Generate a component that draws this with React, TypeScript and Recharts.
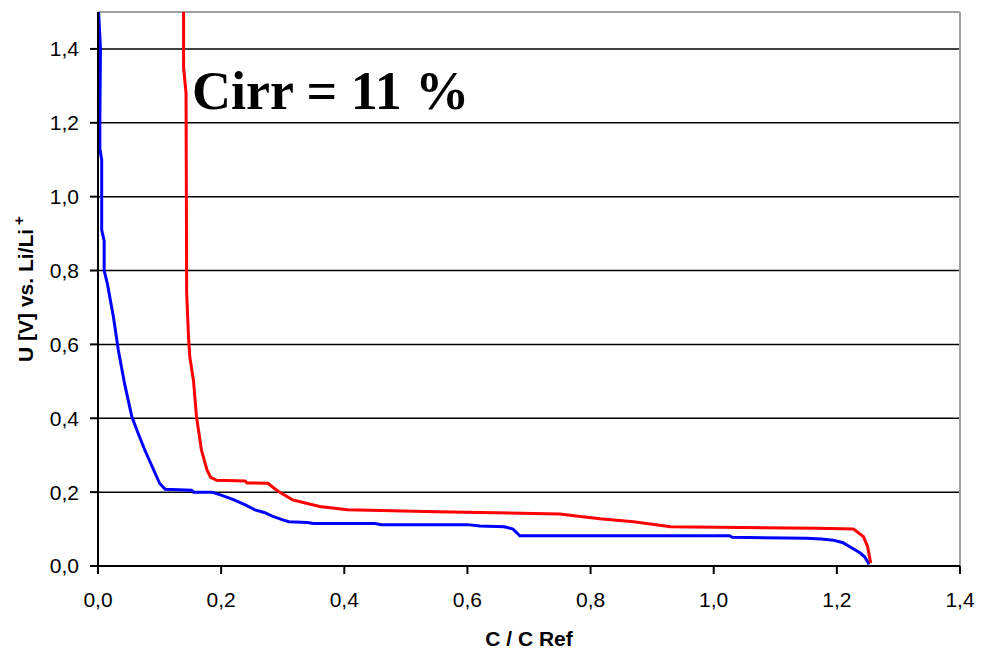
import { CartesianGrid, Line, LineChart, ReferenceLine, XAxis, YAxis } from "recharts";

// C / C Ref values and voltages
const blueX = [0.001, 0.004, 0.003, 0.003, 0.006, 0.006, 0.01, 0.01, 0.015, 0.025, 0.033, 0.043, 0.055, 0.065, 0.076, 0.1, 0.109, 0.152, 0.155, 0.185, 0.2, 0.22, 0.24, 0.255, 0.27, 0.283, 0.3, 0.31, 0.34, 0.35, 0.45, 0.46, 0.6, 0.62, 0.66, 0.674, 0.68, 0.685, 0.8, 1.026, 1.03, 1.151, 1.175, 1.194, 1.21, 1.221, 1.238, 1.245, 1.25, 1.252];
const blueU = [1.5, 1.4, 1.2, 1.13, 1.1, 0.91, 0.88, 0.8, 0.766, 0.675, 0.585, 0.495, 0.404, 0.36, 0.314, 0.224, 0.208, 0.205, 0.2, 0.2, 0.192, 0.18, 0.165, 0.152, 0.145, 0.135, 0.125, 0.12, 0.118, 0.115, 0.115, 0.112, 0.112, 0.108, 0.106, 0.1, 0.09, 0.082, 0.082, 0.082, 0.078, 0.075, 0.073, 0.07, 0.063, 0.052, 0.035, 0.025, 0.012, 0.004];

const redX = [0.139, 0.139, 0.143, 0.144, 0.147, 0.149, 0.155, 0.16, 0.168, 0.177, 0.183, 0.193, 0.239, 0.242, 0.276, 0.29, 0.3, 0.316, 0.36, 0.405, 0.55, 0.75, 0.78, 0.815, 0.87, 0.93, 1.168, 1.227, 1.243, 1.25, 1.255];
const redU = [1.5, 1.35, 1.28, 0.739, 0.621, 0.567, 0.503, 0.404, 0.314, 0.26, 0.24, 0.232, 0.23, 0.225, 0.224, 0.205, 0.195, 0.179, 0.161, 0.152, 0.147, 0.141, 0.135, 0.128, 0.12, 0.106, 0.102, 0.1, 0.08, 0.052, 0.008];

const xTicks = [0, 0.2, 0.4, 0.6, 0.8, 1.0, 1.2, 1.4];
const yTicks = [0, 0.2, 0.4, 0.6, 0.8, 1.0, 1.2, 1.4];

const blueData = blueX.map((c, i) => ({ c, u: blueU[i] }));
const redData = redX.map((c, i) => ({ c, u: redU[i] }));

const fmt = (v: number) => v.toFixed(1).replace(".", ",");
const tickFont = { fontFamily: "Arial, 'Liberation Sans', sans-serif", fontSize: 21, fill: "#000" };
const labelFont = { fontFamily: "Arial, 'Liberation Sans', sans-serif", fontSize: 21, fontWeight: 700, fill: "#000" };

export default function App() {
  return (
    <div style={{ position: "absolute", left: 0, top: 0, background: "#fff" }}>
      <LineChart width={981} height={651} margin={{ top: 12, right: 21, bottom: 0, left: 0 }}>
        <CartesianGrid horizontal vertical={false} stroke="#000" strokeWidth={1.5} />
        <XAxis
          type="number"
          dataKey="c"
          domain={[0, 1.4]}
          ticks={xTicks}
          tickFormatter={fmt}
          allowDataOverflow
          height={85}
          stroke="#000"
          strokeWidth={2}
          tickSize={8}
          tickMargin={18}
          tick={tickFont}
          label={{
            content: (p: any) => (
              <text x={p.viewBox.x + p.viewBox.width / 2} y={p.viewBox.y + 80} textAnchor="middle" style={labelFont}>
                C / C Ref
              </text>
            ),
          }}
        />
        <YAxis
          type="number"
          dataKey="u"
          domain={[0, 1.5]}
          ticks={yTicks}
          tickFormatter={fmt}
          allowDataOverflow
          width={98}
          stroke="#000"
          strokeWidth={2}
          tickSize={8}
          tickMargin={11}
          tick={tickFont}
          label={{
            content: (p: any) => {
              const cy = p.viewBox.y + p.viewBox.height / 2;
              return (
                <text x={33} y={cy} transform={`rotate(-90 33 ${cy})`} textAnchor="middle" style={labelFont}>
                  U [V] vs. Li/Li
                  <tspan dx={4} dy={-9} fontSize={15}>+</tspan>
                </text>
              );
            },
          }}
        />
        <ReferenceLine y={1.5} stroke="#a0a0a0" strokeWidth={2} />
        <ReferenceLine x={1.4} stroke="#a0a0a0" strokeWidth={2} />
        <Line data={blueData} dataKey="u" type="linear" stroke="#0000ff" strokeWidth={3} dot={false} isAnimationActive={false} />
        <Line data={redData} dataKey="u" type="linear" stroke="#ff0000" strokeWidth={3} dot={false} isAnimationActive={false} />
        <text x={192} y={109} style={{ fontFamily: "'Times New Roman', 'Liberation Serif', serif", fontSize: 54, fontWeight: 700, fill: "#000" }}>
          Cirr = 11 %
        </text>
      </LineChart>
    </div>
  );
}
